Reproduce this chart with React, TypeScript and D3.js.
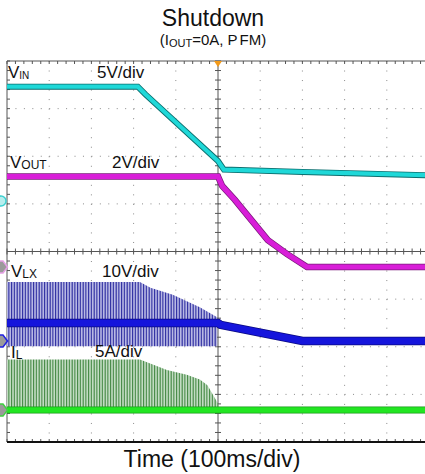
import React from 'react';
import * as d3 from 'd3';

// Time axis (ms) and trace readings per channel
const vinTime = [-500, -190, -172, 0, 14, 200, 500];
const vinVolts = [12.0, 12.0, 11.2, 4.2, 3.3, 3.05, 2.7];

const voutTime = [-500, 0, 10, 40, 118, 163, 211, 500];
const voutVolts = [3.8, 3.8, 3.4, 2.82, 1.13, 0.55, 0, 0];

const vlxTime = [-500, 0, 6, 200, 500];
const vlxVolts = [3.8, 3.8, 3.4, 0, 0];
const vlxPeakTime = [-500, -185, -160, -107, -43, -2];
const vlxPeakVolts = [12.4, 12.4, 11.2, 9.7, 7.1, 5.0];
const vlxValleyVolts = -1.1;

const ilTime = [-500, 500];
const ilAmps = [0, 0];
const ilPeakTime = [-500, -185, -121, -74, -43, -25, -12, 0, 3];
const ilPeakAmps = [5.3, 5.3, 4.2, 3.7, 3.2, 2.6, 1.6, 0.7, 0];

const xDivs = [-4, -3, -2, -1, 1, 2, 3, 4];
const yDivs = [-3, -2, -1, 1, 2, 3];

const FONT = "'Liberation Sans', Arial, sans-serif";

const W = 425;
const H = 474;

const x = d3.scaleLinear().domain([-500, 500]).range([7, 429]);
const yDiv = d3.scaleLinear().domain([-4, 4]).range([442, 61]);
const divW = x(100) - x(0);
const divH = yDiv(0) - yDiv(1);

// Each channel: units per division and ground offset in divisions
const chan = (perDiv: number, ground: number) => (v: number) => yDiv(ground + v / perDiv);
const yVin = chan(5, 1.06);
const yVout = chan(2, -0.325);
const yVlx = chan(10, -1.88);
const yIl = chan(5, -3.33);

const zip = (t: number[], v: number[]) => t.map((tt, i) => [tt, v[i]] as [number, number]);

export default function App() {
  const line = (yf: (v: number) => number) =>
    d3.line<[number, number]>().x(d => x(d[0])).y(d => yf(d[1]));

  const vinPath = line(yVin)(zip(vinTime, vinVolts)) || '';
  const voutPath = line(yVout)(zip(voutTime, voutVolts)) || '';
  const vlxPath = line(yVlx)(zip(vlxTime, vlxVolts)) || '';
  const ilPath = line(yIl)(zip(ilTime, ilAmps)) || '';

  const vlxArea = d3.area<[number, number]>()
    .x(d => x(d[0]))
    .y0(() => yVlx(vlxValleyVolts))
    .y1(d => yVlx(d[1]))(zip(vlxPeakTime, vlxPeakVolts)) || '';
  const ilArea = d3.area<[number, number]>()
    .x(d => x(d[0]))
    .y0(() => yIl(0))
    .y1(d => yIl(d[1]))(zip(ilPeakTime, ilPeakAmps)) || '';

  const left = x(-500);
  const right = W;
  const top = yDiv(4);
  const bottom = yDiv(-4);
  const cx = x(0);
  const cy = yDiv(0);

  const minorX = d3.range(-25, 26).map(i => x(0) + (i * divW) / 5).filter(v => v >= left && v <= right);
  const minorY = d3.range(-20, 21).map(i => cy + (i * divH) / 5);

  const marker = (yy: number, color: string, key: string) => (
    <path key={key} d={`M-2,${yy - 6} L3,${yy - 6} L7.5,${yy} L3,${yy + 6} L-2,${yy + 6} Z`}
      fill="#9a9a9a" stroke={color} strokeWidth={1.5} />
  );

  return (
    <svg width={W} height={H} style={{ position: 'absolute', left: 0, top: 0, background: '#fff' }}
      fontFamily={FONT}>
      <defs>
        <pattern id="vlxHatch" patternUnits="userSpaceOnUse" width={11} height={20}>
          <rect width={11} height={20} fill="#b8b8e4" />
          <rect x={0} width={1.2} height={20} fill="#3434a4" />
          <rect x={2.8} width={1.1} height={20} fill="#3434a4" />
          <rect x={5.6} width={1.2} height={20} fill="#3434a4" />
          <rect x={8.3} width={1.1} height={20} fill="#3434a4" />
        </pattern>
        <pattern id="ilHatch" patternUnits="userSpaceOnUse" width={11} height={20}>
          <rect width={11} height={20} fill="#c2dcc2" />
          <rect x={0} width={1.2} height={20} fill="#4a8c4a" />
          <rect x={2.8} width={1.1} height={20} fill="#4a8c4a" />
          <rect x={5.6} width={1.2} height={20} fill="#4a8c4a" />
          <rect x={8.3} width={1.1} height={20} fill="#4a8c4a" />
        </pattern>
      </defs>

      {/* Title */}
      <text x={213} y={26} textAnchor="middle" fontSize={23} fill="#111">Shutdown</text>
      <text x={213} y={45} textAnchor="middle" fontSize={15} fill="#111">
        (I<tspan fontSize={11} dy={2}>OUT</tspan><tspan dy={-2}>=0A, P</tspan><tspan dx={2}>FM)</tspan>
      </text>

      {/* Dotted grid */}
      <g stroke="#8a8a8a" strokeWidth={1}>
        {xDivs.map(d => (
          <line key={`vx${d}`} x1={x(d * 100)} x2={x(d * 100)} y1={top} y2={bottom}
            strokeDasharray={`1 ${divH / 5 - 1}`} />
        ))}
        {yDivs.map(d => (
          <line key={`hy${d}`} x1={left} x2={right} y1={yDiv(d)} y2={yDiv(d)}
            strokeDasharray={`1 ${divW / 5 - 1}`} />
        ))}
      </g>

      {/* Center axes and frame with minor ticks */}
      <g stroke="#555" strokeWidth={1}>
        <line x1={cx} x2={cx} y1={top} y2={bottom} />
        <line x1={left} x2={right} y1={cy} y2={cy} />
        {minorY.map((yy, i) => (
          <line key={`cyt${i}`} x1={cx - 3} x2={cx + 3} y1={yy} y2={yy} />
        ))}
        {minorX.map((xx, i) => (
          <line key={`cxt${i}`} x1={xx} x2={xx} y1={cy - 3} y2={cy + 3} />
        ))}
        {minorX.map((xx, i) => (
          <line key={`tt${i}`} x1={xx} x2={xx} y1={top} y2={top + 3} />
        ))}
        {minorX.map((xx, i) => (
          <line key={`bt${i}`} x1={xx} x2={xx} y1={bottom - 3} y2={bottom} />
        ))}
        {minorY.map((yy, i) => (
          <line key={`lt${i}`} x1={left} x2={left + 3} y1={yy} y2={yy} />
        ))}
        <line x1={left} x2={right} y1={top} y2={top} />
        <line x1={left} x2={left} y1={top} y2={bottom} />
      </g>
      <line x1={left} x2={right} y1={bottom} y2={bottom} stroke="#111" strokeWidth={2} />

      {/* Switching envelopes */}
      <path d={vlxArea} fill="url(#vlxHatch)" />
      <path d={ilArea} fill="url(#ilHatch)" />

      {/* Traces */}
      <path d={vinPath} fill="none" stroke="#0b6e6e" strokeWidth={6} />
      <path d={vinPath} fill="none" stroke="#1fd8d8" strokeWidth={4.2} />
      <path d={voutPath} fill="none" stroke="#7a1a7a" strokeWidth={6.5} />
      <path d={voutPath} fill="none" stroke="#d81ed8" strokeWidth={5} />
      <path d={vlxPath} fill="none" stroke="#0a0a80" strokeWidth={8.5} />
      <path d={vlxPath} fill="none" stroke="#1515dc" strokeWidth={7} />
      <path d={ilPath} fill="none" stroke="#1a9a1a" strokeWidth={7} />
      <path d={ilPath} fill="none" stroke="#22e622" strokeWidth={5.5} />

      {/* Trigger marker */}
      <path d={`M${cx - 4},${top} L${cx + 4},${top} L${cx},${top + 6} Z`} fill="#f29a1a" />

      {/* Ground markers */}
      <circle cx={1} cy={yVin(0)} r={5} fill="#b8eeee" stroke="#3cd0d0" strokeWidth={1.5} />
      {marker(yVout(0), '#e6a0e6', 'mo')}
      {marker(yVlx(0), '#2020e0', 'ml')}
      {marker(yIl(0), '#40d040', 'mi')}

      {/* Channel labels */}
      <g fontSize={17} fill="#111">
        <text x={8} y={78}>V<tspan fontSize={10} dy={1}>IN</tspan></text>
        <text x={97} y={78}>5V/div</text>
        <text x={10} y={168}>V<tspan fontSize={12} dy={1}>OUT</tspan></text>
        <text x={112} y={168}>2V/div</text>
        <text x={11} y={277}>V<tspan fontSize={12} dy={1}>LX</tspan></text>
        <text x={102} y={277}>10V/div</text>
        <text x={11} y={358}>I<tspan fontSize={12} dy={1}>L</tspan></text>
        <text x={95} y={357}>5A/div</text>
      </g>

      <text x={212} y={467} textAnchor="middle" fontSize={23} fill="#111">Time (100ms/div)</text>
    </svg>
  );
}
